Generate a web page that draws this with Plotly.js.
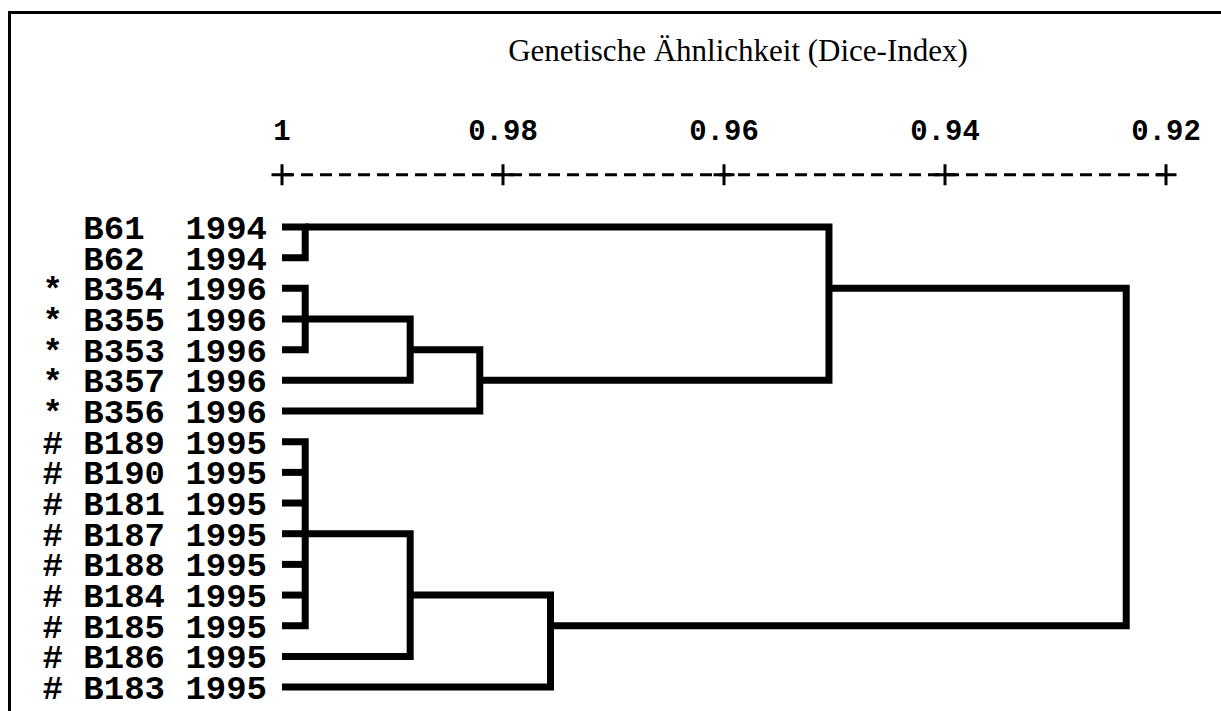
<!DOCTYPE html>
<html>
<head>
<meta charset="utf-8">
<script src="https://cdn.plot.ly/plotly-3.0.1.min.js"></script>
<style>
  html, body { margin: 0; padding: 0; background: #fff; }
  #wrap { position: relative; width: 1221px; height: 711px; overflow: hidden; }
  #chart { width: 1221px; height: 711px; }
  #frame { position: absolute; left: 8px; top: 11px; width: 1400px; height: 900px;
           border-top: 3px solid #000; border-left: 3px solid #000; pointer-events: none; }
</style>
</head>
<body>
<div id="wrap">
  <div id="chart"></div>
  <div id="frame"></div>
</div>
<script>
// ---- data ----
const leafLabels = [
  "  B61  1994", "  B62  1994",
  "* B354 1996", "* B355 1996", "* B353 1996", "* B357 1996", "* B356 1996",
  "# B189 1995", "# B190 1995", "# B181 1995", "# B187 1995", "# B188 1995",
  "# B184 1995", "# B185 1995", "# B186 1995", "# B183 1995"
];
// merges: children refer to leaf index (0-15) or merge index + 16
const mergeChildren = [[0, 1], [2, 3, 4], [17, 5], [18, 6], [16, 19],
                       [7, 8, 9, 10, 11, 12, 13], [21, 14], [22, 15], [20, 23]];
const mergeHeights  = [0.9979, 0.9979, 0.9884, 0.9821, 0.9505,
                       0.9979, 0.9884, 0.9757, 0.9236];
const mergeRows     = [0, 3, 4, 5, 2, 10, 12, 13, 7.5];
const leafHeight = 1;
const tickVals  = [1, 0.98, 0.96, 0.94, 0.92];
const tickTexts = ["1", "0.98", "0.96", "0.94", "0.92"];
const titleText = "Genetische Ähnlichkeit (Dice-Index)";

// ---- build dendrogram segments ----
const nLeaves = leafLabels.length;
function nodeH(i) { return i < nLeaves ? leafHeight : mergeHeights[i - nLeaves]; }
function nodeR(i) { return i < nLeaves ? i : mergeRows[i - nLeaves]; }
const dx = [], dy = [];
mergeChildren.forEach((kids, k) => {
  const H = mergeHeights[k];
  const sorted = kids.slice().sort((a, b) => nodeR(a) - nodeR(b));
  const first = sorted[0], last = sorted[sorted.length - 1];
  dx.push(nodeH(first), H, H, nodeH(last), null);
  dy.push(nodeR(first), nodeR(first), nodeR(last), nodeR(last), null);
  sorted.slice(1, -1).forEach(c => {
    dx.push(nodeH(c), H, null);
    dy.push(nodeR(c), nodeR(c), null);
  });
});

const axisRow = -1.7;
const mono = "Liberation Mono, Courier New, monospace";

const traces = [
  { x: dx, y: dy, mode: "lines", type: "scatter", hoverinfo: "skip",
    line: { color: "#000", width: 7 }, connectgaps: false },
  { x: [tickVals[0], tickVals[tickVals.length - 1]], y: [axisRow, axisRow],
    mode: "lines", type: "scatter", hoverinfo: "skip",
    line: { color: "#000", width: 3, dash: "12px,7px" } },
  { x: tickVals, y: tickVals.map(() => axisRow), mode: "markers", type: "scatter",
    hoverinfo: "skip", cliponaxis: false,
    marker: { symbol: "cross-thin-open", size: 15, color: "#000",
              line: { color: "#000", width: 3 } } }
];

const nb = s => s.replace(/ /g, "\u00a0");

const layout = {
  width: 1221, height: 711,
  margin: { l: 270, r: 11, t: 150, b: 0 },
  paper_bgcolor: "#fff", plot_bgcolor: "#fff",
  showlegend: false,
  title: { text: titleText, font: { family: "Liberation Serif, Times New Roman, serif", size: 31, color: "#000" },
           xref: "container", x: 738 / 1221, xanchor: "center",
           yref: "container", y: 1 - 50 / 711, yanchor: "middle" },
  xaxis: { range: [1.001086, 0.916018], side: "top", tickmode: "array",
           tickvals: tickVals, ticktext: tickTexts, ticks: "",
           showgrid: false, zeroline: false, showline: false,
           ticklabelstandoff: 3,
           tickfont: { family: mono, size: 29, color: "#000", weight: "bold" } },
  yaxis: { range: [15.78, -2.51], tickmode: "array",
           tickvals: leafLabels.map((_, i) => i), ticktext: leafLabels.map(nb),
           ticks: "", showgrid: false, zeroline: false, showline: false,
           ticklabelstandoff: 2,
           tickfont: { family: mono, size: 34, color: "#000", weight: "bold" } }
};

Plotly.newPlot("chart", traces, layout, { displayModeBar: false, staticPlot: true });
</script>
</body>
</html>
